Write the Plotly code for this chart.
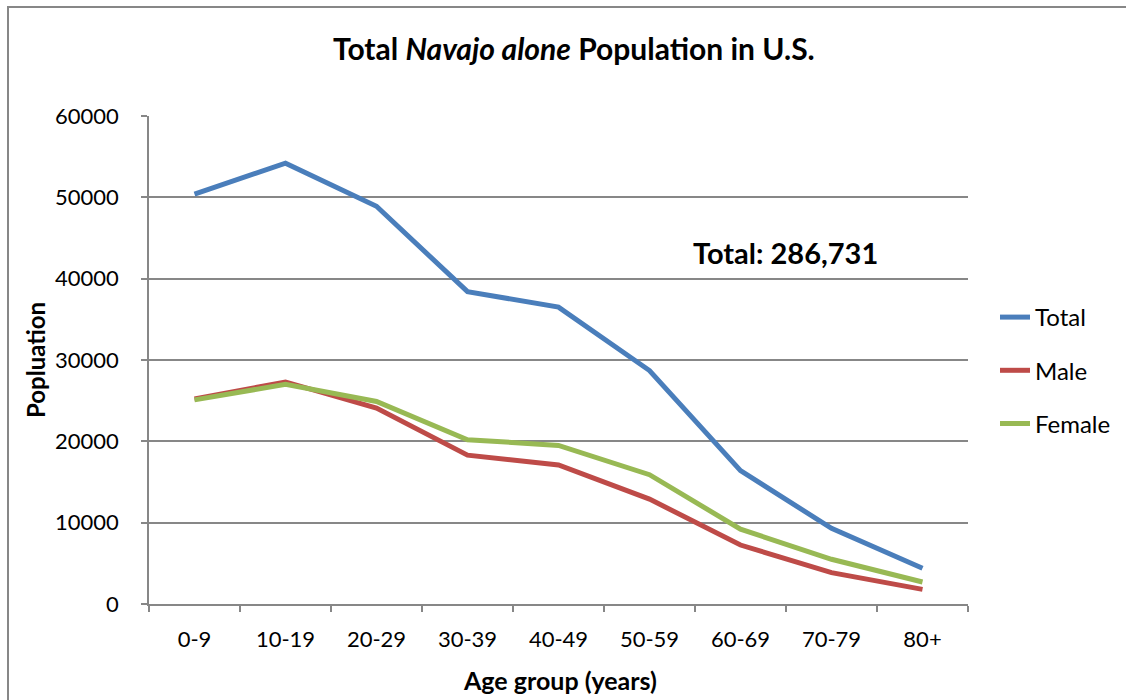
import plotly.graph_objects as go

age_groups = ["0-9", "10-19", "20-29", "30-39", "40-49", "50-59", "60-69", "70-79", "80+"]
total = [50400, 54200, 48900, 38400, 36500, 28700, 16400, 9300, 4400]
male = [25200, 27300, 24100, 18300, 17100, 12900, 7250, 3850, 1800]
female = [25100, 27000, 24900, 20200, 19500, 15900, 9200, 5500, 2700]

series_names = ["Total", "Male", "Female"]
series_values = [total, male, female]
series_colors = ["#4A7EBB", "#BE4B48", "#98B954"]

FONT = "Lato"
GRAY = "#878787"

# pixel layout helpers
W, H = 1126, 700
L, R, T, B = 149, 158, 116, 96
PW, PH = W - L - R, H - T - B
def px(x):
    return (x - L) / PW
def py(y):
    return (H - B - y) / PH

fig = go.Figure()
for i, (name, vals, col) in enumerate(zip(series_names, series_values, series_colors)):
    fig.add_trace(go.Scatter(
        x=age_groups, y=vals, name=name, mode="lines",
        line=dict(color=col, width=5),
        legendgroup=name,
    ))

fig.update_layout(
    width=W, height=H,
    margin=dict(l=L, r=R, t=T, b=B, autoexpand=False),
    paper_bgcolor="white", plot_bgcolor="white",
    font=dict(family=FONT, color="black", size=20),
    showlegend=True,
    legend=dict(
        x=px(995), y=py(295), xanchor="left", yanchor="top",
        font=dict(family=FONT, size=24, color="black"),
        tracegroupgap=19, traceorder="grouped",
        bgcolor="rgba(0,0,0,0)",
    ),
    xaxis=dict(
        type="category", range=[-0.5, len(age_groups) - 0.5],
        showgrid=False, showline=True, linecolor=GRAY, linewidth=1.5,
        ticks="outside", ticklen=6, tickcolor=GRAY, tickwidth=1.5,
        tickson="boundaries", ticklabelstandoff=15,
        tickfont=dict(family=FONT, size=22, color="black"),
        zeroline=False,
    ),
    yaxis=dict(
        range=[0, 60000], dtick=10000, tick0=0,
        showgrid=True, gridcolor=GRAY, gridwidth=1.5,
        showline=True, linecolor=GRAY, linewidth=1.5,
        ticks="outside", ticklen=6, tickcolor=GRAY, tickwidth=1.5,
        ticklabelstandoff=18,
        tickfont=dict(family=FONT, size=22, color="black"),
        zeroline=False, tickformat="d",
    ),
    annotations=[
        dict(text="<b>Total <i>Navajo alone</i> Population in U.S.</b>",
             x=px(574), y=py(48), xref="paper", yref="paper",
             xanchor="center", yanchor="middle",
             showarrow=False, font=dict(family=FONT, size=30, color="black")),
        dict(text="<b>Total: 286,731</b>",
             x=px(785), y=py(252), xref="paper", yref="paper",
             xanchor="center", yanchor="middle",
             showarrow=False, font=dict(family=FONT, size=29, color="black")),
        dict(text="<b>Popluation</b>", textangle=-90,
             x=px(35), y=py(360), xref="paper", yref="paper",
             xanchor="center", yanchor="middle",
             showarrow=False, font=dict(family=FONT, size=24, color="black")),
        dict(text="<b>Age group (years)</b>",
             x=px(560), y=py(680), xref="paper", yref="paper",
             xanchor="center", yanchor="middle",
             showarrow=False, font=dict(family=FONT, size=25, color="black")),
    ],
    shapes=[
        dict(type="rect", xref="paper", yref="paper",
             x0=px(8), x1=px(1140), y0=py(720), y1=py(7),
             line=dict(color=GRAY, width=2), fillcolor="rgba(0,0,0,0)", layer="below"),
    ],
)

fig.write_html("out.html", config={"displayModeBar": False},
               post_script="document.body.style.margin='0';")
